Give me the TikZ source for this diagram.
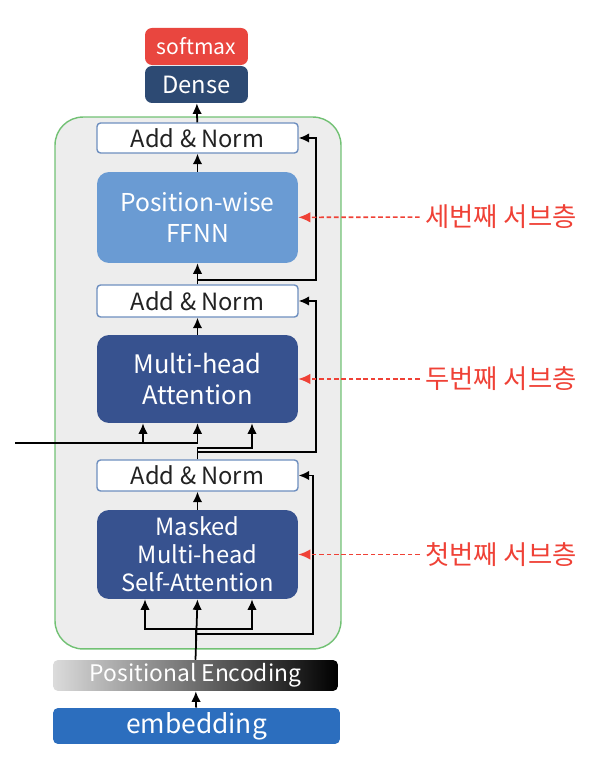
\documentclass[tikz,border=0pt]{standalone}
\usepackage{fontspec}
\setmainfont{Noto Sans CJK KR}
\usepackage{xcolor}
\usepackage{tikz}
\usetikzlibrary{calc,arrows.meta}
\definecolor{softRed}{HTML}{E9463F}
\definecolor{denseBlue}{HTML}{2D4A73}
\definecolor{ffnnBlue}{HTML}{6A9BD3}
\definecolor{attnBlue}{HTML}{37528F}
\definecolor{embBlue}{HTML}{2C6EBE}
\definecolor{normLine}{HTML}{6E8FBF}
\definecolor{layerFill}{HTML}{EDEDED}
\definecolor{layerLine}{HTML}{72C174}
\definecolor{noteRed}{HTML}{EF4136}
\definecolor{textDark}{HTML}{222222}
\tikzset{
  layerbox/.style={rectangle, rounded corners=0.56cm, draw=layerLine, fill=layerFill, line width=0.8pt, minimum width=5.72cm, minimum height=10.64cm},
  normbox/.style={rectangle, rounded corners=2pt, draw=normLine, fill=white, line width=0.8pt, minimum width=4.02cm, minimum height=#1, inner sep=0pt, text=textDark, font=\fontsize{13.5}{15}\selectfont},
  subbox/.style 2 args={rectangle, rounded corners=0.24cm, fill=#1, minimum width=4.02cm, minimum height=#2, inner sep=0pt, align=center, text=white},
  headbox/.style={rectangle, rounded corners=0.14cm, fill=#1, minimum width=2.06cm, minimum height=0.74cm, inner sep=0pt, text=white},
  flowarrow/.style={-{Latex[length=2.1mm,width=1.9mm]}, line width=1pt, draw=black},
  notearrow/.style={-{Latex[length=2.4mm,width=2.1mm]}, line width=0.9pt, draw=noteRed, dash pattern=on 2.6pt off 1.6pt},
  notelabel/.style={font=\fontsize{15}{17}\selectfont, text=noteRed, inner sep=3pt},
}
\begin{document}
\begin{tikzpicture}[x=0.02cm,y=0.02cm]
    \useasboundingbox (0,0) rectangle (590,764);

    % --- decoder layer frame ---
    \node[layerbox] (layer) at (198,381) {};

    \node[headbox=softRed, font=\fontsize{12}{14}\selectfont]
    (softmax) at (196.5,717.5) {softmax};

    \node[headbox=denseBlue, font=\fontsize{13.5}{15}\selectfont]
    (dense) at (196.5,679.5) {Dense};

    \node[normbox=0.6cm] (an3) at (197.5,626) {Add \& Norm};

    \node[subbox={ffnnBlue}{1.82cm}, font=\fontsize{14}{18}\selectfont]
    (ffnn) at (197.5,546.5) {Position-wise\\FFNN};

    \node[normbox=0.64cm] (an2) at (197.5,463) {Add \& Norm};

    \node[subbox={attnBlue}{1.76cm}, font=\fontsize{14.5}{18}\selectfont]
    (mha) at (197.5,385) {Multi-head\\Attention};

    \node[normbox=0.62cm] (an1) at (197.5,288.5) {Add \& Norm};

    \node[subbox={attnBlue}{1.78cm}, font=\fontsize{13.5}{16}\selectfont]
    (mmha) at (197.5,209.5) {Masked\\Multi-head\\Self-Attention};

    \node[rectangle, rounded corners=0.1cm, left color=black!14, right color=black,
      minimum width=5.7cm, minimum height=0.62cm, inner sep=0pt, text=white,
      font=\fontsize{13}{15}\selectfont]
    (pe) at (195.5,88.5) {Positional Encoding};

    \node[rectangle, rounded corners=0.1cm, fill=embBlue, minimum width=5.74cm,
      minimum height=0.72cm, inner sep=0pt, text=white, font=\fontsize{15}{17}\selectfont]
    (emb) at (196.5,38) {embedding};

    % --- sublayer notes ---
    \node[notelabel] (note3) at (501,547) {세번째 서브층};
    \node[notelabel] (note2) at (501,385) {두번째 서브층};
    \node[notelabel] (note1) at (501,209.5) {첫번째 서브층};

    % encoder output into the second sublayer
    \coordinate (enc) at (15,321);

    \draw[flowarrow] (emb) -- (pe);
    \draw[flowarrow] (pe.north) -- (mmha.south);
    \draw[flowarrow] (pe.north) -- ++(0,31) -| ($(mmha.south)+(-52.5,0)$);
    \draw[flowarrow] (pe.north) -- ++(0,31) -| ($(mmha.south)+(54.5,0)$);
    \draw[flowarrow] (pe.north) -- ++(0,26) -- ++(117.5,0) |- (an1.east);
    \draw[flowarrow] (mmha) -- (an1);

    \draw[flowarrow] (enc) -- (enc -| mha.south) -- (mha.south);
    \draw[flowarrow] (enc) -| ($(mha.south)+(-54.5,0)$);
    \draw[flowarrow] (an1.north) -- ++(0,11) -| ($(mha.south)+(54.5,0)$);
    \draw[flowarrow] (an1.north) -- ++(0,7) -- ++(118.5,0) |- (an2.east);
    \draw[flowarrow] (mha) -- (an2);

    \draw[flowarrow] (an2) -- (ffnn);
    \draw[flowarrow] (an2.north) -- ++(0,4) -- ++(118.5,0) |- (an3.east);
    \draw[flowarrow] (ffnn) -- (an3);
    \draw[flowarrow] (an3) -- (dense);

    \draw[notearrow] (note3) -- (ffnn);
    \draw[notearrow] (note2) -- (mha);
    \draw[notearrow] (note1) -- (mmha);
\end{tikzpicture}
\end{document}
